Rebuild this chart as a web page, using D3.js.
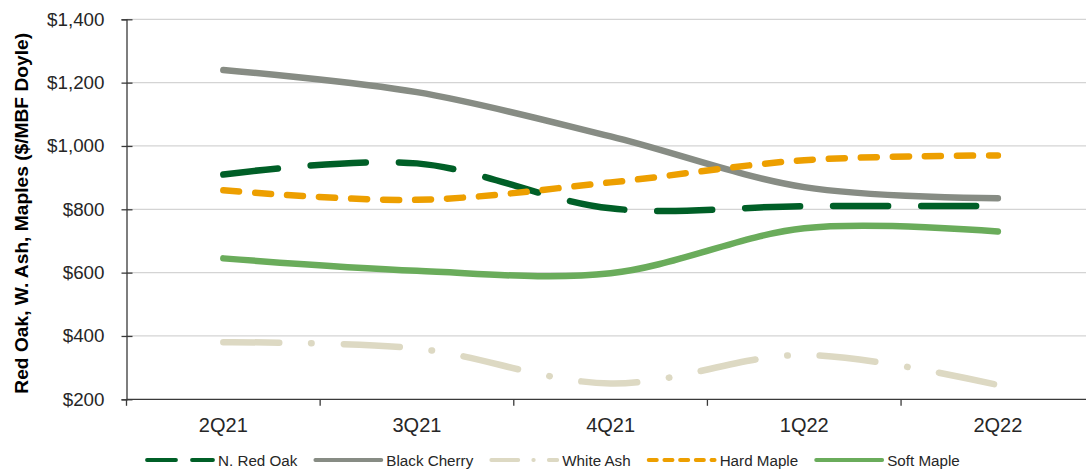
<!DOCTYPE html>
<html>
<head>
<meta charset="utf-8">
<script src="https://cdn.jsdelivr.net/npm/d3@7"></script>
<style>
  body { margin: 0; background: #fff; }
  svg { display: block; font-family: "Liberation Sans", Arial, sans-serif; }
</style>
</head>
<body>
<div id="chart"></div>
<script>
// quarters on the x axis
var quarters = ["2Q21", "3Q21", "4Q21", "1Q22", "2Q22"];

// $/MBF Doyle
var redOak      = [910, 945, 803, 810, 810];
var blackCherry = [1240, 1170, 1030, 870, 835];
var whiteAsh    = [380, 360, 250, 340, 245];
var hardMaple   = [860, 830, 885, 955, 970];
var softMaple   = [645, 606, 598, 740, 730];

var yTicks = [200, 400, 600, 800, 1000, 1200, 1400];

var series = [
    {name: "N. Red Oak",   values: redOak,      color: "#005f27", dash: "55,33",          legDash: "29,16"},
    {name: "Black Cherry", values: blackCherry, color: "#878c84", dash: null,             legDash: null},
    {name: "White Ash",    values: whiteAsh,    color: "#ddd9c3", dash: "56,32,0.5,32",   legDash: "27,15,0.5,15"},
    {name: "Hard Maple",   values: hardMaple,   color: "#ed9f00", dash: "16,16",          legDash: "8.2,7.5"},
    {name: "Soft Maple",   values: softMaple,   color: "#6aac5b", dash: null,             legDash: null}
];

var width = 1086, height = 470;
var margin = {top: 19.3, left: 126.5, right: -8.7, bottom: 70.7};

var svg = d3.select("#chart")
    .append("svg")
    .attr("width", width)
    .attr("height", height);

var x = d3.scaleBand()
    .domain(quarters)
    .range([margin.left, width - margin.right]);

var y = d3.scaleLinear()
    .domain([200, 1400])
    .range([height - margin.bottom, margin.top]);

// gridlines
svg.append("g")
    .selectAll("line")
    .data(yTicks.slice(1))
    .enter().append("line")
    .attr("x1", margin.left)
    .attr("x2", width)
    .attr("y1", function(d) { return y(d) })
    .attr("y2", function(d) { return y(d) })
    .style("stroke", "#d4d4d4")
    .style("stroke-width", 1.2);

// y axis, ticks cross the line
var yAxis = svg.append("g")
    .attr("transform", "translate(" + margin.left + ",0)")
    .call(d3.axisLeft(y).tickValues(yTicks).tickSize(5).tickPadding(17)
        .tickFormat(function(d) { return "$" + d3.format(",")(d) }));
yAxis.select(".domain").attr("stroke", "#3a3a3a").attr("stroke-width", 1.3);
yAxis.selectAll(".tick line").attr("stroke", "#3a3a3a").attr("stroke-width", 1.3)
    .attr("x1", 6);
yAxis.selectAll(".tick text")
    .attr("font-size", "18.8px")
    .attr("fill", "#262626")
    .attr("font-family", "'Liberation Sans', Arial, sans-serif");

// x axis with ticks between the categories
var x0 = y(200);
svg.append("line")
    .attr("x1", margin.left).attr("x2", width)
    .attr("y1", x0).attr("y2", x0)
    .style("stroke", "#3a3a3a").style("stroke-width", 1.3);

var bounds = quarters.map(function(q) { return x(q) });
svg.append("g")
    .selectAll("line")
    .data(bounds)
    .enter().append("line")
    .attr("x1", function(d) { return d }).attr("x2", function(d) { return d })
    .attr("y1", x0).attr("y2", x0 + 6.5)
    .style("stroke", "#3a3a3a").style("stroke-width", 1.3);

svg.append("g")
    .selectAll("text")
    .data(quarters)
    .enter().append("text")
    .attr("x", function(d) { return x(d) + x.bandwidth() / 2 })
    .attr("y", 431.5)
    .attr("text-anchor", "middle")
    .attr("font-size", "20px")
    .attr("fill", "#262626")
    .text(function(d) { return d });

// axis title
svg.append("text")
    .attr("transform", "translate(27.5," + ((margin.top + x0) / 2 + 4) + ") rotate(-90)")
    .attr("text-anchor", "middle")
    .attr("font-size", "19.2px")
    .attr("font-weight", "bold")
    .attr("fill", "#000")
    .text("Red Oak, W. Ash, Maples ($/MBF Doyle)");

// smoothed lines, like excel's
var line = d3.line()
    .x(function(d, i) { return x(quarters[i]) + x.bandwidth() / 2 })
    .y(function(d) { return y(d) })
    .curve(d3.curveCatmullRom.alpha(0));

svg.append("g")
    .selectAll("path")
    .data(series)
    .enter().append("path")
    .attr("d", function(d) { return line(d.values) })
    .attr("fill", "none")
    .attr("stroke", function(d) { return d.color })
    .attr("stroke-width", 6.5)
    .attr("stroke-linecap", "round")
    .attr("stroke-linejoin", "round")
    .attr("stroke-dasharray", function(d) { return d.dash });

// legend
var legend = svg.append("g");
var lx = 145, ly = 460;
series.forEach(function(s) {
    legend.append("line")
        .attr("x1", lx + 2).attr("x2", lx + 68)
        .attr("y1", ly).attr("y2", ly)
        .attr("stroke", s.color)
        .attr("stroke-width", 3.8)
        .attr("stroke-linecap", "round")
        .attr("stroke-dasharray", s.legDash);
    var t = legend.append("text")
        .attr("x", lx + 73)
        .attr("y", ly + 5.5)
        .attr("font-size", "15.2px")
        .attr("fill", "#262626")
        .text(s.name);
    lx = lx + 73 + t.node().getComputedTextLength() + 16;
});
</script>
</body>
</html>
